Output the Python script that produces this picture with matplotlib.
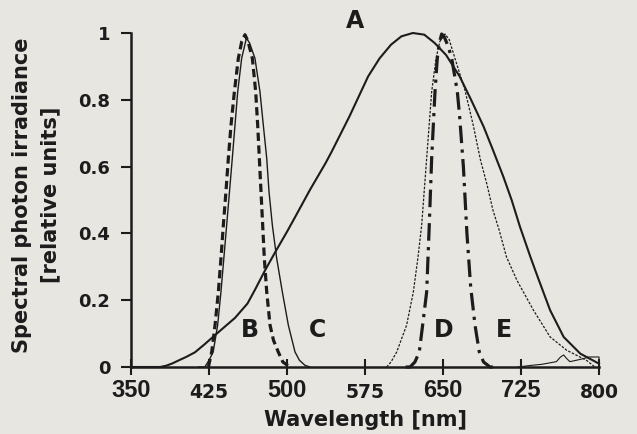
import matplotlib
matplotlib.use("Agg")
import matplotlib.pyplot as plt

# ---- data ----
A_wl = [350, 378, 384, 390, 396, 403, 411.5, 420, 431, 450, 462, 469, 479, 488.5, 500, 508, 522, 537,
        543, 560, 578, 589, 600, 610, 621, 632, 642, 653, 666, 677, 689, 698, 708, 716,
        724, 734, 741, 753, 766, 782, 800]
A_val = [0.0, 0.0, 0.004, 0.011, 0.02, 0.03, 0.044, 0.066, 0.096, 0.147, 0.19, 0.23, 0.29, 0.343, 0.405, 0.45, 0.53, 0.61,
         0.645, 0.75, 0.87, 0.924, 0.965, 0.99, 1.0, 0.995, 0.97, 0.934, 0.87, 0.80, 0.72, 0.65, 0.57, 0.50,
         0.42, 0.33, 0.27, 0.17, 0.09, 0.04, 0.01]

T_wl = [722, 735, 745, 752, 759, 763, 766, 769, 772, 778, 785, 790, 800, 800]
T_val = [0.0, 0.005, 0.008, 0.012, 0.016, 0.03, 0.036, 0.025, 0.016, 0.02, 0.025, 0.03, 0.03, 0.0]

B_wl = [424.4, 427.6, 430.8, 434, 436.5, 438.8, 441.3, 443.6, 446.2, 449.4, 453.2, 456.5,
        459.6, 462.5, 466.7, 469.9, 471.8, 473.4, 475, 476.6, 478.2, 480.5, 483.7, 487,
        491.6, 496, 502.9]
B_val = [0.0, 0.045, 0.125, 0.225, 0.325, 0.425, 0.525, 0.625, 0.725, 0.824, 0.924, 0.975,
         0.995, 0.975, 0.924, 0.824, 0.725, 0.625, 0.525, 0.425, 0.325, 0.225, 0.125, 0.08,
         0.045, 0.015, 0.0]

C_wl = [415, 421, 425, 429, 433.3, 436.5, 442, 447.4, 452.6, 456.4, 461, 464, 469.2, 474,
        477.2, 480.5, 482.7, 485.9, 490.1, 495.5, 501.3, 507.7, 512, 517.3, 522]
C_val = [0.0, 0.0, 0.02, 0.045, 0.125, 0.225, 0.425, 0.625, 0.824, 0.924, 0.985, 0.97, 0.924,
         0.824, 0.725, 0.625, 0.525, 0.425, 0.325, 0.225, 0.125, 0.045, 0.02, 0.005, 0.0]

D_wl = [614, 618.3, 623, 627.2, 630.4, 634.3, 636.8, 639.1, 642.3, 644.5, 646.5, 648.7, 651,
        655, 658.4, 663.8, 666, 669.6, 673, 676.6, 680.8, 684.9, 689, 695.2, 698]
D_val = [0.0, 0.0, 0.015, 0.045, 0.125, 0.225, 0.425, 0.625, 0.824, 0.924, 0.97, 0.997, 0.99,
         0.96, 0.924, 0.824, 0.75, 0.60, 0.40, 0.24, 0.125, 0.045, 0.015, 0.0, 0.0]

E_wl = [595.8, 600, 605.5, 615, 621.5, 626, 629.5, 634.3, 639.1, 643.3, 647, 652, 656, 661.5,
        671, 679, 686, 692, 698, 704, 711, 721, 737, 753, 769, 788, 796]
E_val = [0.0, 0.015, 0.045, 0.125, 0.225, 0.33, 0.425, 0.625, 0.824, 0.924, 0.975, 0.997, 0.98,
         0.924, 0.83, 0.725, 0.62, 0.55, 0.47, 0.41, 0.33, 0.26, 0.17, 0.09, 0.05, 0.02, 0.0]

curve_labels = ["A", "B", "C", "D", "E"]
label_x = [565, 464, 529, 651, 709]
label_y = [1.035, 0.11, 0.11, 0.11, 0.11]

x_ticks = [350, 425, 500, 575, 650, 725, 800]
y_ticks = [0, 0.2, 0.4, 0.6, 0.8, 1]
y_tick_labels = ["0", "0.2", "0.4", "0.6", "0.8", "1"]

# ---- style ----
BG = "#e8e6e1"
INK = "#1c1c1c"

fig = plt.figure(figsize=(6.37, 4.34), dpi=100, facecolor=BG)
ax = fig.add_axes([131 / 637, 1 - 367 / 434, (599 - 131) / 637, (367 - 33) / 434])
ax.set_facecolor(BG)

ax.plot(A_wl, A_val, color=INK, lw=1.5, clip_on=False, solid_joinstyle="round")
ax.plot(T_wl, T_val, color=INK, lw=0.8, clip_on=False)
ax.plot(C_wl, C_val, color=INK, lw=1.0, clip_on=False, solid_joinstyle="round")
ax.plot(B_wl, B_val, color=INK, lw=2.3, dashes=(2.6, 1.4), clip_on=False)
ax.plot(E_wl, E_val, color=INK, lw=0.9, dashes=(2.0, 1.2), clip_on=False)
ax.plot(D_wl, D_val, color=INK, lw=2.3, dashes=(5.5, 2.0, 1.0, 2.0), clip_on=False)

for t, lx, ly in zip(curve_labels, label_x, label_y):
    ax.text(lx, ly, t, ha="center", va="center", fontsize=17, fontweight="bold",
            color=INK, family="DejaVu Sans", clip_on=False)

ax.set_xlim(350, 800)
ax.set_ylim(0, 1)

for s in ["top", "right"]:
    ax.spines[s].set_visible(False)
for s in ["left", "bottom"]:
    ax.spines[s].set_linewidth(1.8)
    ax.spines[s].set_color(INK)

ax.set_xticks(x_ticks)
ax.set_xticklabels([str(v) for v in x_ticks])
ax.set_yticks(y_ticks)
ax.set_yticklabels(y_tick_labels)

ax.tick_params(axis="x", direction="inout", length=11, width=1.5, colors=INK, pad=3)
ax.tick_params(axis="y", direction="out", length=7, width=1.5, colors=INK, pad=8)

big = {"350", "500", "650", "725"}
for lab in ax.get_xticklabels():
    if lab.get_text() in big:
        lab.set_family(["Liberation Sans Narrow", "Liberation Sans"])
        lab.set_fontsize(17)
        lab.set_fontweight("bold")
    else:
        lab.set_family("DejaVu Sans")
        lab.set_fontsize(13.5)
        lab.set_fontweight("bold")
        lab.set_y(-0.014)
for lab in ax.get_yticklabels():
    lab.set_family("DejaVu Sans")
    lab.set_fontsize(13)
    lab.set_fontweight("bold")

ax.set_xlabel("Wavelength [nm]", fontsize=15, fontweight="bold", family="DejaVu Sans",
              color=INK, va="center")
ax.xaxis.set_label_coords(0.5, -0.159)
ax.set_ylabel("Spectral photon irradiance\n[relative units]", fontsize=15,
              fontweight="bold", family="DejaVu Sans", color=INK, va="center",
              linespacing=1.5)
ax.yaxis.set_label_coords(-0.203, 0.515)

fig.savefig("out.png", dpi=100, facecolor=BG)
